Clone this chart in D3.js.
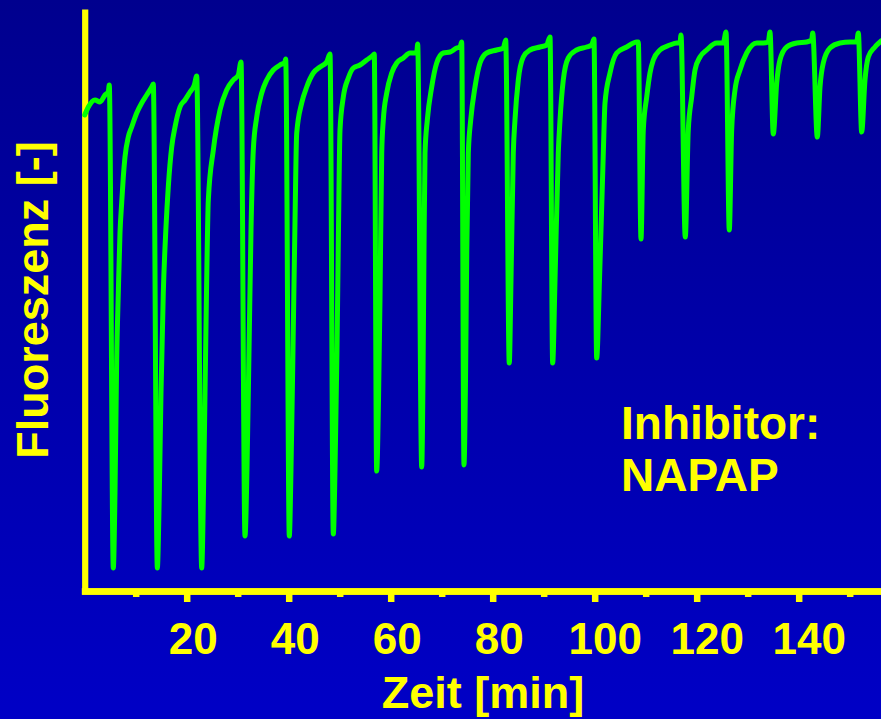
<!DOCTYPE html>
<html>
<head>
<meta charset="utf-8">
<script src="https://cdn.jsdelivr.net/npm/d3@7"></script>
<style>
  body { margin: 0; background: #0000a8; }
  svg { display: block; }
  text { font-family: "Liberation Sans", Arial, sans-serif; font-weight: bold; fill: #ffff00; }
</style>
</head>
<body>
<div id="chart"></div>
<script>
// time in minutes
const timeMin = [
  0, 0.71, 2.02, 3.0, 3.98, 4.63, 4.82, 5.61,
  5.94, 6.27, 6.59, 6.92, 7.25, 7.57, 7.90, 8.55, 9.22, 10.20, 11.18, 12.16, 13.14, 13.45, 14.24,
  14.63, 14.96, 15.41, 15.94, 16.39, 17.06, 17.71, 18.69, 19.67, 20.65, 21.49, 21.96, 22.94,
  23.29, 23.59, 23.88, 24.24, 25.22, 26.53, 27.84, 29.14, 30.12, 30.65, 31.43,
  31.82, 32.22, 32.61, 33.06, 33.73, 34.71, 35.69, 36.98, 38.29, 39.27, 39.41, 40.12,
  40.45, 40.84, 41.24, 41.57, 42.55, 43.53, 44.82, 46.14, 47.45, 48.10, 48.75,
  49.08, 49.47, 49.76, 50.06, 50.71, 51.69, 52.67, 53.98, 55.29, 56.59, 56.78, 57.25,
  57.61, 57.90, 58.24, 58.55, 59.22, 60.20, 61.18, 62.47, 63.78, 65.10, 65.29, 66.08,
  66.33, 66.53, 66.73, 67.18, 68.04, 69.02, 70.31, 71.63, 72.94, 73.59, 73.92, 74.37,
  74.67, 74.92, 75.22, 75.69, 76.53, 77.51, 78.82, 80.78, 82.08, 82.55, 83.25,
  83.59, 84.04, 84.37, 85.02, 86.00, 87.31, 89.27, 90.59, 91.24, 91.76,
  92.22, 92.86, 93.20, 93.84, 94.82, 96.47, 98.43, 99.41, 99.86, 100.39,
  100.94, 101.69, 102.02, 103.00, 104.31, 106.27, 108.24, 108.55, 109.08,
  109.53, 110.20, 110.84, 111.49, 112.80, 114.76, 116.08, 116.73, 116.92, 117.76,
  118.35, 119.02, 119.67, 120.65, 121.96, 123.92, 125.22, 125.75, 126.39,
  126.86, 127.51, 128.49, 129.80, 131.76, 133.06, 134.04, 134.37, 135.02,
  135.69, 136.33, 137.65, 139.61, 141.57, 142.55, 142.75, 143.65,
  144.18, 144.82, 146.14, 148.10, 150.06, 151.37, 151.69, 152.35,
  153.00, 153.65, 154.96, 155.94, 156.14
];

// fluorescence, arbitrary units
const fluor = [
  47.6, 48.4, 49.1, 48.9, 49.6, 49.9, 50.6, 2.3,
  9.8, 23.1, 29.8, 35.8, 38.8, 41.4, 43.4, 45.4, 46.4, 47.8, 48.8, 49.6, 50.4, 50.7, 2.3,
  9.8, 19.8, 29.8, 36.4, 40.4, 44.4, 46.4, 48.4, 49.1, 49.9, 50.6, 51.5, 2.3,
  9.8, 19.8, 29.8, 39.1, 44.1, 48.1, 50.1, 51.1, 51.6, 52.9, 5.5,
  12.1, 24.1, 36.1, 44.1, 47.4, 49.8, 51.1, 52.1, 52.6, 52.9, 53.2, 5.5,
  12.1, 24.1, 37.1, 45.8, 48.8, 50.4, 51.8, 52.4, 52.9, 53.7, 5.7,
  12.1, 24.1, 36.1, 46.1, 49.4, 51.3, 52.3, 52.6, 53.1, 53.6, 53.7, 12.0,
  19.1, 29.1, 43.8, 47.1, 49.8, 51.8, 52.8, 53.3, 53.8, 53.8, 54.7, 12.4,
  21.1, 34.1, 43.8, 47.1, 50.4, 52.8, 53.8, 53.9, 54.3, 54.4, 54.9, 12.6,
  21.1, 34.1, 43.8, 47.1, 50.4, 52.8, 53.8, 54.1, 54.3, 55.1, 22.8,
  31.1, 43.8, 47.1, 51.1, 53.4, 54.1, 54.4, 54.6, 55.4, 22.8,
  31.1, 43.8, 47.1, 51.1, 53.3, 54.1, 54.4, 54.6, 55.2, 23.3,
  31.1, 43.8, 48.8, 51.8, 53.8, 54.4, 54.9, 54.9, 35.2,
  46.1, 49.4, 51.8, 53.1, 54.1, 54.6, 54.8, 54.8, 55.6, 35.4,
  46.1, 49.4, 52.1, 53.4, 54.1, 54.8, 54.8, 55.9, 36.1,
  46.1, 50.1, 52.1, 53.8, 54.8, 54.8, 54.9, 55.9, 45.7,
  50.8, 53.1, 54.4, 54.8, 54.9, 55.1, 55.8, 45.4,
  50.4, 52.8, 54.3, 54.8, 54.9, 54.9, 55.8, 45.9,
  51.1, 53.4, 54.4, 54.9, 55.0
];

const majorTicks = [20, 40, 60, 80, 100, 120, 140];
const minorTicks = [10, 30, 50, 70, 90, 110, 130, 150];
const xTitle = "Zeit [min]";
const yTitle = "Fluoreszenz [-]";
const note = ["Inhibitor:", "NAPAP"];

const width = 881,
  height = 719;

const data = timeMin.map((t, i) => ({ t: t, f: fluor[i] }));

const x = d3.scaleLinear().domain([0, 156.14]).range([84.7, 881]);
const y = d3.scaleLinear().domain([0, 58.2]).range([591, 9]);

const svg = d3
  .select("#chart")
  .append("svg")
  .attr("width", width)
  .attr("height", height);

// background gradient, darker navy at the top
const grad = svg
  .append("defs")
  .append("linearGradient")
  .attr("id", "bg")
  .attr("x1", 0)
  .attr("y1", 0)
  .attr("x2", 0)
  .attr("y2", 1);
grad.append("stop").attr("offset", "0%").attr("stop-color", "#00008e");
grad.append("stop").attr("offset", "100%").attr("stop-color", "#0000c6");

svg
  .append("rect")
  .attr("width", width)
  .attr("height", height)
  .attr("fill", "url(#bg)");

// x axis: minor ticks first, then the labelled ones
const xMinor = svg
  .append("g")
  .attr("transform", `translate(0,${y(0)})`)
  .call(d3.axisBottom(x).tickValues(minorTicks).tickSize(6).tickSizeOuter(0).tickFormat(""));

const xMajor = svg
  .append("g")
  .attr("transform", `translate(0,${y(0)})`)
  .call(d3.axisBottom(x).tickValues(majorTicks).tickSize(11).tickSizeOuter(0).tickPadding(21));

for (let g of [xMinor, xMajor]) {
  g.select(".domain")
    .attr("stroke", "#ffff00")
    .attr("stroke-width", 6.6)
    .attr("stroke-linecap", "square");
  g.selectAll(".tick line").attr("stroke", "#ffff00").attr("stroke-width", 6.5);
}

xMajor
  .selectAll(".tick text")
  .attr("fill", "#ffff00")
  .style("font-size", "44px")
  .attr("dy", "0.71em")
  .attr("dx", (d) => (d >= 100 ? 10 : 6));

// y axis, line only
const yAxis = svg
  .append("g")
  .attr("transform", `translate(${x(0)},0)`)
  .call(d3.axisLeft(y).tickValues([]).tickSizeOuter(0));

yAxis.select(".domain").attr("stroke", "#ffff00").attr("stroke-width", 6.2);

// axis titles
svg
  .append("text")
  .attr("x", 483)
  .attr("y", 708)
  .attr("text-anchor", "middle")
  .style("font-size", "45px")
  .text(xTitle);

svg
  .append("text")
  .attr("transform", "translate(48,300) rotate(-90)")
  .attr("text-anchor", "middle")
  .style("font-size", "45px")
  .text(yTitle);

// the trace
const line = d3
  .line()
  .x((d) => x(d.t))
  .y((d) => y(d.f))
  .curve(d3.curveMonotoneX);

svg
  .append("path")
  .datum(data)
  .attr("fill", "none")
  .attr("stroke", "#00ff00")
  .attr("stroke-width", 5)
  .attr("stroke-linejoin", "round")
  .attr("stroke-linecap", "round")
  .attr("d", line);

// annotation
svg
  .append("g")
  .selectAll("text")
  .data(note)
  .join("text")
  .attr("x", 621)
  .attr("y", (d, i) => 439 + i * 52)
  .style("font-size", "46px")
  .text((d) => d);
</script>
</body>
</html>
